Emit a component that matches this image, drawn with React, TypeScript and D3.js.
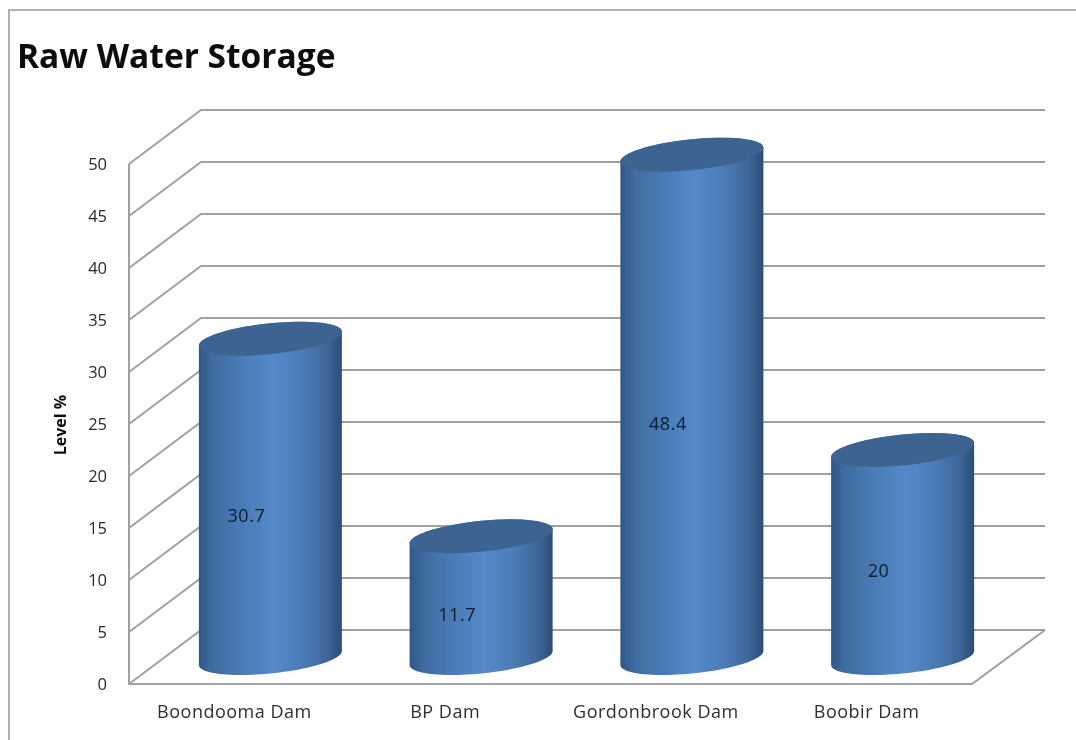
import * as d3 from 'd3'

const dams = ['Boondooma Dam', 'BP Dam', 'Gordonbrook Dam', 'Boobir Dam']
const levels = [30.7, 11.7, 48.4, 20]
const levelTicks = [0, 5, 10, 15, 20, 25, 30, 35, 40, 45, 50]

const width = 1076
const height = 740
const fontFamily = '"Open Sans", sans-serif'

// front plane of the fake 3d box, the back wall sits up and to the right of it
const plot = { left: 129, right: 972, top: 164, bottom: 684 }
const depth = { x: 72, y: -54 }

// cylinder cross section, as two conjugate half axes
const capW = 71.5
const capTilt = -7
const capH = 15.5
const floorLift = 26

const x = d3.scaleBand<string>().domain(dams).range([plot.left, plot.right])
const y = d3.scaleLinear().domain([0, 50]).range([plot.bottom, plot.top])

const gridPath = (v: number) => {
  const p = d3.path()
  p.moveTo(plot.left, y(v))
  p.lineTo(plot.left + depth.x, y(v) + depth.y)
  p.lineTo(plot.right + depth.x + 1, y(v) + depth.y)
  return p.toString()
}

const capPoint = (cx: number, cy: number, t: number): [number, number] => [
  cx + capW * Math.cos(t),
  cy + capTilt * Math.cos(t) + capH * Math.sin(t),
]

const bodyPath = (cx: number, top: number, bottom: number) => {
  const angles = d3.range(0, 49).map((i) => (i / 48) * Math.PI)
  const under = angles.map((t) => capPoint(cx, bottom, t))
  const over = angles.map((t) => capPoint(cx, top, t + Math.PI))
  return d3.line()([...under, ...over]) + 'Z'
}

export default function App() {
  const bw = x.bandwidth()
  return (
    <svg
      width={width}
      height={height}
      viewBox={`0 0 ${width} ${height}`}
      style={{ position: 'absolute', left: 0, top: 0, background: '#fff', fontFamily }}
    >
      <defs>
        <linearGradient id="cyl" x1="0" y1="0" x2="1" y2="0">
          <stop offset="0%" stopColor="#2f5784" />
          <stop offset="10%" stopColor="#3f6ca0" />
          <stop offset="30%" stopColor="#4a7bb6" />
          <stop offset="52%" stopColor="#5588ca" />
          <stop offset="72%" stopColor="#4c7cb8" />
          <stop offset="90%" stopColor="#3d6697" />
          <stop offset="100%" stopColor="#2d4d76" />
        </linearGradient>
        <filter id="soft" x="-2%" y="-2%" width="104%" height="104%">
          <feGaussianBlur stdDeviation="0.65" />
        </filter>
      </defs>

      <g filter="url(#soft)">
        {/* frame of the pasted screenshot */}
        <path d={`M9,${height}V10H${width}`} fill="none" stroke="#b0b0b0" strokeWidth={2} />

        <text x={17} y={68} fontSize={33.5} fontWeight={700} fill="#0c0c0c">
          Raw Water Storage
        </text>

        <g fill="none" stroke="#a0a0a0" strokeWidth={2}>
          {levelTicks.map((v) => (
            <path key={v} d={gridPath(v)} />
          ))}
          <path d={`M${plot.left},${plot.top}V${plot.bottom}H${plot.right}L${plot.right + depth.x + 1},${y(0) + depth.y}`} />
        </g>

        {levelTicks.map((v) => (
          <text key={v} x={107} y={y(v)} dy="0.36em" textAnchor="end" fontSize={16.5} fill="#2a2a2a">
            {v}
          </text>
        ))}

        <text
          transform={`translate(66,425) rotate(-90)`}
          textAnchor="middle"
          fontSize={16}
          fontWeight={700}
          fill="#111"
        >
          Level %
        </text>

        {dams.map((d, i) => {
          const cx = (x(d) ?? 0) + bw / 2 + depth.x / 2
          const base = y(0) - floorLift
          const top = y(levels[i]) - floorLift
          return (
            <g key={d}>
              <path d={bodyPath(cx, top, base)} fill="url(#cyl)" />
              <ellipse
                rx={1}
                ry={1}
                transform={`matrix(${capW},${capTilt},0,${capH},${cx},${top})`}
                fill="#3c6491"
              />
            </g>
          )
        })}

        {dams.map((d, i) => (
          <text
            key={d}
            x={(x(d) ?? 0) + bw / 2 + 12}
            y={y(levels[i] / 2) - 9}
            dy="0.36em"
            textAnchor="middle"
            fontSize={18}
            letterSpacing={0.5}
            fill="#0e1c2a"
          >
            {levels[i]}
          </text>
        ))}

        {dams.map((d) => (
          <text
            key={d}
            x={(x(d) ?? 0) + bw / 2}
            y={712}
            dy="0.36em"
            textAnchor="middle"
            fontSize={18}
            letterSpacing={0.5}
            fill="#2f2f2f"
          >
            {d}
          </text>
        ))}
      </g>
    </svg>
  )
}
